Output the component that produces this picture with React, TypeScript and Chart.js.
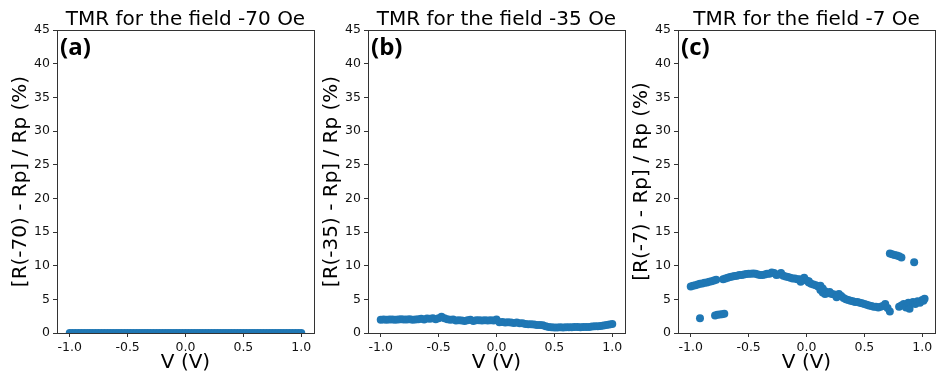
import React, { useEffect, useRef } from 'react';
import { Chart, registerables } from 'chart.js';
Chart.register(...registerables);

const X_TICKS = [-1.0, -0.5, 0.0, 0.5, 1.0];
const Y_MIN = 0;
const Y_MAX = 45;
const Y_STEP = 5;

const SWEEP_V = [
  -1, -0.975, -0.95, -0.925, -0.9, -0.875, -0.85, -0.825, -0.8, -0.775,
  -0.75, -0.725, -0.7, -0.675, -0.65, -0.625, -0.6, -0.575, -0.55, -0.525,
  -0.5, -0.475, -0.45, -0.425, -0.4, -0.375, -0.35, -0.325, -0.3, -0.275,
  -0.25, -0.225, -0.2, -0.175, -0.15, -0.125, -0.1, -0.075, -0.05, -0.025,
  0, 0.025, 0.05, 0.075, 0.1, 0.125, 0.15, 0.175, 0.2, 0.225,
  0.25, 0.275, 0.3, 0.325, 0.35, 0.375, 0.4, 0.425, 0.45, 0.475,
  0.5, 0.525, 0.55, 0.575, 0.6, 0.625, 0.65, 0.675, 0.7, 0.725,
  0.75, 0.775, 0.8, 0.825, 0.85, 0.875, 0.9, 0.925, 0.95, 0.975,
  1,
];

const A_TMR = [
  0, 0, 0, 0, 0, 0, 0, 0, 0, 0,
  0, 0, 0, 0, 0, 0, 0, 0, 0, 0,
  0, 0, 0, 0, 0, 0, 0, 0, 0, 0,
  0, 0, 0, 0, 0, 0, 0, 0, 0, 0,
  0, 0, 0, 0, 0, 0, 0, 0, 0, 0,
  0, 0, 0, 0, 0, 0, 0, 0, 0, 0,
  0, 0, 0, 0, 0, 0, 0, 0, 0, 0,
  0, 0, 0, 0, 0, 0, 0, 0, 0, 0,
  0,
];

const B_TMR = [
  1.95, 2.0, 1.95, 2.0, 2.0, 1.95, 2.0, 2.05, 2.0, 2.0,
  2.05, 1.95, 2.0, 2.05, 2.1, 2.0, 2.15, 2.1, 2.2, 2.05,
  2.2, 2.4, 2.2, 2.05, 1.95, 2.0, 1.85, 1.9, 1.85, 1.8,
  1.9, 1.95, 1.8, 1.9, 1.9, 1.85, 1.9, 1.85, 1.9, 1.85,
  2.0, 1.6, 1.65, 1.55, 1.6, 1.55, 1.5, 1.55, 1.45, 1.45,
  1.35, 1.3, 1.3, 1.25, 1.2, 1.2, 1.15, 1.0, 0.9, 0.85,
  0.8, 0.8, 0.85, 0.8, 0.85, 0.85, 0.85, 0.9, 0.9, 0.85,
  0.9, 0.9, 0.9, 0.95, 1.0, 1.0, 1.05, 1.1, 1.2, 1.25,
  1.35,
];

const C_V = [
  -1.0, -0.98, -0.96, -0.94, -0.92, -0.9, -0.88, -0.86, -0.84, -0.82, -0.8, -0.78,
  -0.72, -0.7, -0.68, -0.66, -0.64, -0.62, -0.6, -0.58, -0.56, -0.54, -0.52, -0.5,
  -0.48, -0.46, -0.44, -0.42, -0.4, -0.38, -0.36, -0.34, -0.32, -0.3, -0.28, -0.26,
  -0.24, -0.22, -0.2, -0.18, -0.16, -0.14, -0.12, -0.1, -0.08, -0.06, -0.04, -0.02,
  0.0, 0.02, 0.04, 0.06, 0.08, 0.1, 0.12, 0.14, 0.16, 0.18, 0.2, 0.22,
  0.24, 0.26, 0.28, 0.3, 0.32, 0.34, 0.36, 0.38, 0.4, 0.42, 0.44, 0.46,
  0.48, 0.5, 0.52, 0.54, 0.56, 0.58, 0.6, 0.62, 0.64, 0.66, 0.68, 0.7, 0.72,
  -0.05, 0.02, 0.12, 0.14, 0.16, 0.2, 0.26,
  0.72, 0.74, 0.76, 0.78, 0.8, 0.82, 0.93,
  0.8, 0.82, 0.84, 0.86, 0.88, 0.89, 0.9, 0.92, 0.94, 0.96, 0.98, 1.0, 1.01, 1.02,
  -0.92, -0.79, -0.77, -0.75, -0.73, -0.71,
];

const C_TMR = [
  6.9, 7.0, 7.1, 7.2, 7.3, 7.35, 7.45, 7.5, 7.6, 7.7, 7.8, 7.9,
  8.0, 8.1, 8.2, 8.3, 8.4, 8.45, 8.5, 8.6, 8.6, 8.7, 8.75, 8.8,
  8.8, 8.85, 8.8, 8.7, 8.6, 8.6, 8.7, 8.8, 8.8, 9.0, 8.9, 8.6,
  8.7, 8.9, 8.5, 8.4, 8.3, 8.2, 8.1, 8.1, 8.0, 8.0, 7.9, 8.2,
  7.8, 7.5, 7.3, 7.2, 7.1, 6.9, 6.4, 6.0, 6.2, 5.9, 5.9, 5.8,
  5.7, 5.6, 5.8, 5.5, 5.2, 5.0, 4.9, 4.8, 4.7, 4.6, 4.6, 4.5,
  4.4, 4.3, 4.2, 4.1, 4.0, 3.9, 3.9, 3.8, 3.9, 4.0, 4.3, 3.7, 3.2,
  7.6, 7.7, 7.0, 6.6, 5.8, 6.1, 5.3,
  11.8, 11.7, 11.6, 11.5, 11.4, 11.2, 10.5,
  3.9, 4.1, 4.3, 3.8, 4.5, 3.6, 4.4, 4.6, 4.3, 4.7, 4.5, 4.9, 4.8, 5.1,
  2.2, 2.6, 2.7, 2.75, 2.8, 2.85,
];

const TITLES = ['TMR for the field -70 Oe', 'TMR for the field -35 Oe', 'TMR for the field -7 Oe'];
const Y_TITLES = ['[R(-70) - Rp] / Rp (%)', '[R(-35) - Rp] / Rp (%)', '[R(-7) - Rp] / Rp (%)'];
const TAGS = ['(a)', '(b)', '(c)'];
const X_TITLE = 'V (V)';

const PLOT_LEFTS = [57, 368, 678];
const AXIS_W = 50;
const PLOT_W = 259;
const CANVAS_W = AXIS_W + PLOT_W + 2;
const CANVAS_H = 381;

const FONT = '"DejaVu Sans", sans-serif';
const BLUE = '#1f77b4';
const SPINE = '#333333';

function Panel({ idx, xs, ys }: { idx: number; xs: number[]; ys: number[] }) {
  const ref = useRef<HTMLCanvasElement | null>(null);
  useEffect(() => {
    const canvas = ref.current;
    if (!canvas) return;
    const decor = {
      id: 'decor' + idx,
      afterDraw(chart: any) {
        const { ctx, chartArea } = chart;
        const { left, right, top, bottom } = chartArea;
        ctx.save();
        ctx.strokeStyle = SPINE;
        ctx.lineWidth = 1;
        ctx.strokeRect(Math.round(left) + 0.5, Math.round(top) + 0.5, Math.round(right - left), Math.round(bottom - top));
        ctx.fillStyle = '#000';
        ctx.font = `20px ${FONT}`;
        ctx.textAlign = 'center';
        ctx.textBaseline = 'alphabetic';
        ctx.fillText(TITLES[idx], (left + right) / 2, 25);
        ctx.font = 'bold 24px "Open Sans", sans-serif';
        ctx.textAlign = 'left';
        ctx.fillText(TAGS[idx], left + 3, 55);
        ctx.restore();
      },
    };
    const chart = new Chart(canvas, {
      type: 'scatter',
      data: {
        datasets: [
          {
            data: xs.map((x, i) => ({ x, y: ys[i] })),
            backgroundColor: BLUE,
            borderWidth: 0,
            pointRadius: 4,
            pointHoverRadius: 4,
            clip: 0,
          } as any,
        ],
      },
      options: {
        animation: false,
        responsive: false,
        events: [],
        layout: { padding: { top: 30, right: 2, left: 0, bottom: 0 } },
        plugins: { legend: { display: false }, tooltip: { enabled: false }, title: { display: false } },
        scales: {
          x: {
            type: 'linear',
            min: -1.11,
            max: 1.11,
            afterBuildTicks: (s: any) => {
              s.ticks = X_TICKS.map((v) => ({ value: v }));
            },
            afterFit: (s: any) => {
              s.height = 48;
            },
            grid: { drawOnChartArea: false, drawTicks: true, tickLength: 4, color: SPINE },
            border: { display: false },
            ticks: {
              padding: 3,
              color: '#111',
              font: { family: FONT, size: 12.5 },
              callback: (v: any) => Number(v).toFixed(1),
              maxRotation: 0,
              autoSkip: false,
            },
            title: {
              display: true,
              text: X_TITLE,
              color: '#000',
              font: { family: FONT, size: 20, lineHeight: 1.2 },
              padding: { top: 0, bottom: 6 },
            },
          },
          y: {
            type: 'linear',
            min: Y_MIN,
            max: Y_MAX,
            afterFit: (s: any) => {
              s.width = AXIS_W;
            },
            grid: { drawOnChartArea: false, drawTicks: true, tickLength: 4, color: SPINE },
            border: { display: false },
            ticks: {
              stepSize: Y_STEP,
              padding: 3,
              color: '#111',
              font: { family: FONT, size: 12.5 },
              autoSkip: false,
            },
            title: {
              display: true,
              text: Y_TITLES[idx],
              color: '#000',
              font: { family: FONT, size: 20, lineHeight: 1.2 },
              padding: { top: 2, bottom: 0 },
            },
          },
        },
      },
      plugins: [decor],
    } as any);
    return () => chart.destroy();
  }, [idx, xs, ys]);
  return (
    <canvas
      ref={ref}
      width={CANVAS_W}
      height={CANVAS_H}
      style={{ position: 'absolute', left: PLOT_LEFTS[idx] - AXIS_W, top: 0, width: CANVAS_W, height: CANVAS_H }}
    />
  );
}

export default function App() {
  return (
    <div style={{ position: 'absolute', left: 0, top: 0, width: 936, height: 381, overflow: 'hidden', background: '#fff' }}>
      <Panel idx={0} xs={SWEEP_V} ys={A_TMR} />
      <Panel idx={1} xs={SWEEP_V} ys={B_TMR} />
      <Panel idx={2} xs={C_V} ys={C_TMR} />
    </div>
  );
}
